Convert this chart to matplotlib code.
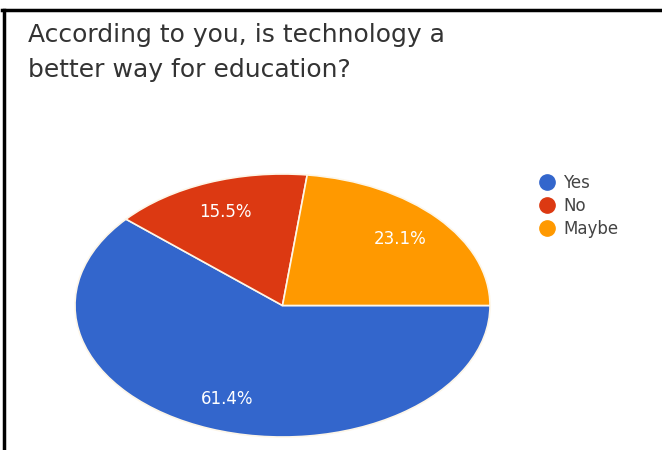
import matplotlib.pyplot as plt
from matplotlib.lines import Line2D

title = "According to you, is technology a\nbetter way for education?"
answers = ["Yes", "No", "Maybe"]
shares = [61.4, 15.5, 23.1]
colors = ["#3366CC", "#DC3912", "#FF9900"]

W, H = 662, 450
fig = plt.figure(figsize=(W / 100, H / 100), dpi=100)
fig.patch.set_facecolor("white")

# pie box in pixels (left, top, right, bottom); the pie is drawn stretched
left, top, right, bottom = 75, 174, 490, 437
ax = fig.add_axes([left / W, 1 - bottom / H, (right - left) / W, (bottom - top) / H])

wedges, texts, autotexts = ax.pie(
    shares, colors=colors, startangle=0, counterclock=False,
    autopct="%.1f%%", pctdistance=0.76,
    wedgeprops=dict(edgecolor="#fdf6e8", linewidth=1.2),
    textprops=dict(color="white", fontsize=12))
ax.set_aspect("auto")
ax.set_xlim(-1, 1)
ax.set_ylim(-1, 1)
ax.axis("off")

# title
fig.text(28 / W, 1 - 23 / H, title, ha="left", va="top", fontsize=18,
         color="#333333", linespacing=1.6)

# legend with round markers
handles = [Line2D([], [], marker="o", linestyle="none", markersize=11,
                  markerfacecolor=c, markeredgecolor=c) for c in colors]
fig.legend(handles, answers, loc="upper left",
           bbox_to_anchor=(529 / W, 1 - 166 / H), frameon=False,
           fontsize=12, labelcolor="#444444", handletextpad=0.35,
           labelspacing=0.3, borderpad=0, handlelength=1.2)

# frame lines on the top and left edges
fig.add_artist(Line2D([3.5 / W, 3.5 / W], [0, 1 - 9.5 / H], color="black", lw=2.5))
fig.add_artist(Line2D([2 / W, 1], [1 - 9.5 / H, 1 - 9.5 / H], color="black", lw=2.5))

fig.savefig("out.png", dpi=100, facecolor="white")
